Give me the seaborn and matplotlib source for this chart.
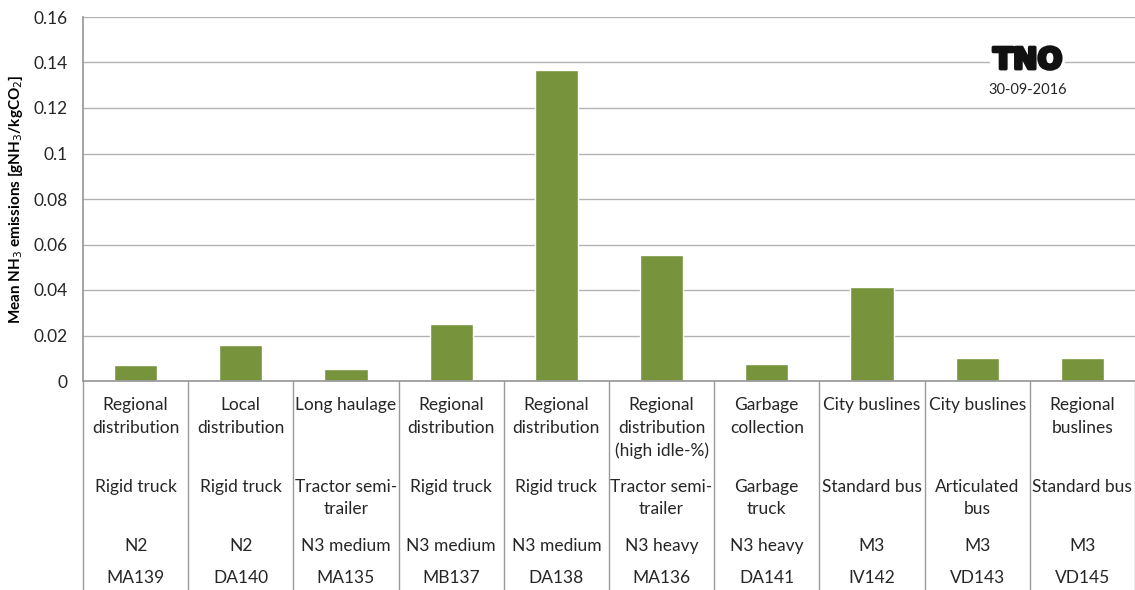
import matplotlib.pyplot as plt
import matplotlib.patheffects as pe
import seaborn as sns
import pandas as pd

# Chart data
codes = ['MA139', 'DA140', 'MA135', 'MB137', 'DA138', 'MA136', 'DA141', 'IV142', 'VD143', 'VD145']
nh3 = [0.0070, 0.0158, 0.0053, 0.0250, 0.1367, 0.0554, 0.0075, 0.0413, 0.0101, 0.0101]
usage = ['Regional\ndistribution', 'Local\ndistribution', 'Long haulage', 'Regional\ndistribution',
         'Regional\ndistribution', 'Regional\ndistribution\n(high idle-%)', 'Garbage\ncollection',
         'City buslines', 'City buslines', 'Regional\nbuslines']
vehicle = ['Rigid truck', 'Rigid truck', 'Tractor semi-\ntrailer', 'Rigid truck', 'Rigid truck',
           'Tractor semi-\ntrailer', 'Garbage\ntruck', 'Standard bus', 'Articulated\nbus', 'Standard bus']
category = ['N2', 'N2', 'N3 medium', 'N3 medium', 'N3 medium', 'N3 heavy', 'N3 heavy', 'M3', 'M3', 'M3']
yticks = [0, 0.02, 0.04, 0.06, 0.08, 0.1, 0.12, 0.14, 0.16]

df = pd.DataFrame({'code': codes, 'nh3': nh3})

sns.set_theme(style='white')
plt.rcParams['font.family'] = ['Lato', 'DejaVu Sans']

fig = plt.figure(figsize=(11.35, 5.9), dpi=100)
ax = fig.add_axes([83 / 1135, 1 - 381 / 590, 1 - 83 / 1135, 364 / 590])

sns.barplot(data=df, x='code', y='nh3', color='#77933c', width=0.41, saturation=1, ax=ax)

ax.set_ylim(0, 0.16)
ax.set_xlim(-0.5, len(codes) - 0.5)
ax.set_yticks(yticks)
ax.set_yticklabels(['0' if t == 0 else f'{t:g}' for t in yticks], fontsize=12.5, color='#262626')
ax.tick_params(axis='y', length=0, pad=11)
ax.set_xticks([])
ax.set_xlabel('')
ax.set_ylabel('Mean NH$_3$ emissions [gNH$_3$/kgCO$_2$]', fontsize=11, fontweight='bold',
              labelpad=6, color='black')
ax.yaxis.grid(True, color='#b3b3b3', linewidth=1)
ax.set_axisbelow(True)
for s in ['top', 'right']:
    ax.spines[s].set_visible(False)
ax.spines['left'].set_color('#999999')
ax.spines['bottom'].set_color('#999999')

# divider lines of the category table below the axis
bottom = -(590 - 381) / 364
trans = ax.get_xaxis_transform()
for i in range(len(codes) + 1):
    ax.plot([i - 0.5, i - 0.5], [0, bottom], transform=trans, color='#999999',
            linewidth=1, clip_on=False)

rows = [(usage, -0.045), (vehicle, -0.268), (category, -0.43), (codes, -0.52)]
for labels, ypos in rows:
    for i, lab in enumerate(labels):
        ax.text(i, ypos, lab, transform=trans, ha='center', va='top', fontsize=12.5,
                color='#262626', linespacing=1.5)

# TNO mark
ax.text(0.898, 0.88, 'TNO', transform=ax.transAxes, ha='center', va='center', fontsize=21,
        fontweight='black', family='DejaVu Sans', color='#111111',
        path_effects=[pe.withStroke(linewidth=2.5, foreground='#111111')],
        bbox=dict(facecolor='white', edgecolor='none', pad=2))
ax.text(0.898, 0.8, '30-09-2016', transform=ax.transAxes, ha='center', va='center',
        fontsize=10.5, color='#262626')

fig.savefig('out.png', dpi=100)
